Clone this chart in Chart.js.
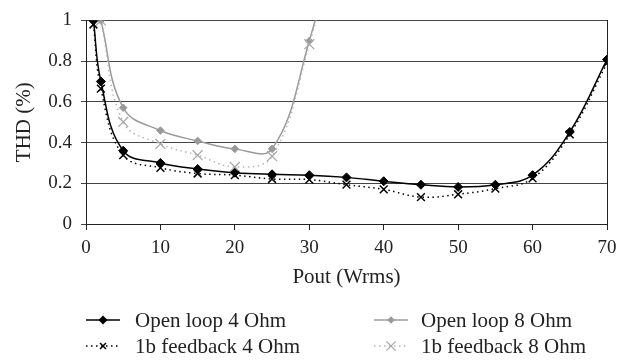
<!DOCTYPE html>
<html>
<head>
<meta charset="utf-8">
<script src="https://cdn.jsdelivr.net/npm/chart.js@4.4.1/dist/chart.umd.min.js"></script>
<style>
  html, body { margin: 0; padding: 0; background: #fff; }
  #wrap { position: relative; width: 627px; height: 360px; }
  #c { position: absolute; left: 0; top: 0; }
  .lg { position: absolute; font-family: "Liberation Serif", serif; font-size: 21px; color: #222; white-space: nowrap; line-height: 24px; height: 24px; }
  .lg svg { position: absolute; top: 4px; }
  .lg span { position: absolute; top: 0; }
</style>
</head>
<body>
<div id="wrap">
  <canvas id="c" width="627" height="360"></canvas>
</div>
<script>
// ---- data ----
const xOpen4 = [1, 2, 5, 10, 15, 20, 25, 30, 35, 40, 45, 50, 55, 60, 65, 70];
const yOpen4 = [1.0, 0.70, 0.36, 0.30, 0.27, 0.252, 0.244, 0.24, 0.229, 0.21, 0.193, 0.182, 0.193, 0.24, 0.452, 0.808];
const xFb4 = [1, 2, 5, 10, 15, 20, 25, 30, 35, 40, 45, 50, 55, 60, 65, 70];
const yFb4 = [0.98, 0.665, 0.338, 0.276, 0.248, 0.24, 0.221, 0.218, 0.193, 0.17, 0.132, 0.146, 0.174, 0.224, 0.44, 0.79];
const xOpen8 = [2, 5, 10, 15, 20, 25, 30, 35];
const yOpen8 = [1.0, 0.571, 0.459, 0.408, 0.369, 0.369, 0.899, 1.6];
const xFb8 = [2, 5, 10, 15, 20, 25, 30, 35];
const yFb8 = [1.0, 0.501, 0.393, 0.338, 0.28, 0.333, 0.883, 1.58];
const seriesNames = ["Open loop 4 Ohm", "Open loop 8 Ohm", "1b feedback 4 Ohm", "1b feedback 8 Ohm"];
const xTitle = "Pout (Wrms)";
const yTitle = "THD (%)";

function pts(xs, ys) { return xs.map((x, i) => ({ x: x, y: ys[i] })); }

const TICKFONT = { family: "'Liberation Serif', serif", size: 19 };
const TITLEFONT = { family: "'Liberation Serif', serif", size: 21 };
const TXT = '#222';

const styles = [
  { color: '#000', dash: [], point: 'rectRot', r: 4.5, pcolor: '#000', pw: 1, lr: 4.5 },
  { color: '#9a9a9a', dash: [], point: 'rectRot', r: 3.8, pcolor: '#9a9a9a', pw: 1, lr: 3.8 },
  { color: '#000', dash: [1.5, 3.5], point: 'crossRot', r: 5.5, pcolor: '#000', pw: 1.5, lr: 4.2 },
  { color: '#b4b4b4', dash: [1.5, 3.5], point: 'crossRot', r: 7, pcolor: '#a6a6a6', pw: 1.2, lr: 6.5 }
];

const datasets = [
  { label: seriesNames[2], data: pts(xFb4, yFb4), st: styles[2] },
  { label: seriesNames[3], data: pts(xFb8, yFb8), st: styles[3] },
  { label: seriesNames[1], data: pts(xOpen8, yOpen8), st: styles[1] },
  { label: seriesNames[0], data: pts(xOpen4, yOpen4), st: styles[0] }
].map(d => ({
  label: d.label,
  data: d.data,
  borderColor: d.st.color,
  borderWidth: 1.5,
  borderDash: d.st.dash,
  tension: 0.4,
  pointStyle: d.st.point,
  pointRadius: d.st.r,
  pointBorderColor: d.st.pcolor,
  pointBackgroundColor: d.st.pcolor,
  pointBorderWidth: d.st.pw,
  fill: false
}));

new Chart(document.getElementById('c'), {
  type: 'line',
  data: { datasets: datasets },
  options: {
    responsive: false,
    animation: false,
    events: [],
    layout: { padding: { left: 0, right: 20, top: 10, bottom: 70 } },
    plugins: { legend: { display: false }, tooltip: { enabled: false } },
    scales: {
      x: {
        type: 'linear', min: 0, max: 70,
        afterFit: s => { s.height = 66; },
        ticks: { stepSize: 10, color: TXT, font: TICKFONT, padding: 7, maxRotation: 0 },
        grid: { display: true, drawOnChartArea: false, drawTicks: true, tickLength: 6, color: '#222', lineWidth: 1 },
        border: { display: true, color: '#222', width: 1 },
        title: { display: true, text: xTitle, color: TXT, font: TITLEFONT, padding: { top: 0, bottom: 0 } }
      },
      y: {
        type: 'linear', min: 0, max: 1,
        afterFit: s => { s.width = 86; },
        ticks: { stepSize: 0.2, color: TXT, font: TICKFONT, padding: 9,
                 callback: v => String(Math.round(v * 10) / 10) },
        grid: { display: true, drawOnChartArea: true, drawTicks: true, tickLength: 5, color: '#444', lineWidth: 1 },
        border: { display: true, color: '#222', width: 1 },
        title: { display: true, text: yTitle, color: TXT, font: TITLEFONT, padding: { top: 12, bottom: 0 } }
      },
      y2: {
        type: 'linear', position: 'right', min: 0, max: 1,
        afterFit: s => { s.width = 0; },
        ticks: { display: false },
        grid: { display: false, drawTicks: false },
        border: { display: true, color: '#222', width: 1 }
      }
    }
  }
});

// ---- HTML legend ----
const legendItems = [
  { name: seriesNames[0], st: styles[0], left: 86, text: 135, top: 308 },
  { name: seriesNames[1], st: styles[1], left: 374, text: 421, top: 308 },
  { name: seriesNames[2], st: styles[2], left: 86, text: 135, top: 334 },
  { name: seriesNames[3], st: styles[3], left: 374, text: 421, top: 334 }
];
const wrap = document.getElementById('wrap');
legendItems.forEach(it => {
  const d = document.createElement('div');
  d.className = 'lg';
  d.style.left = '0px';
  d.style.top = it.top + 'px';
  const dash = it.st.dash.length ? 'stroke-dasharray="1.5 3.5"' : '';
  const W = 34, cx = 17, cy = 8;
  let marker;
  if (it.st.point === 'rectRot') {
    const r = it.st.lr;
    marker = `<polygon points="${cx},${cy - r} ${cx + r},${cy} ${cx},${cy + r} ${cx - r},${cy}" fill="${it.st.pcolor}"/>`;
  } else {
    const r = it.st.lr * 0.707;
    marker = `<path d="M${cx - r},${cy - r} L${cx + r},${cy + r} M${cx - r},${cy + r} L${cx + r},${cy - r}" stroke="${it.st.pcolor}" stroke-width="${it.st.pw}"/>`;
  }
  d.innerHTML = `<svg style="left:${it.left}px" width="${W}" height="16"><line x1="0" y1="${cy}" x2="${W}" y2="${cy}" stroke="${it.st.color}" stroke-width="1.5" ${dash}/>${marker}</svg><span style="left:${it.text}px">${it.name}</span>`;
  wrap.appendChild(d);
});
</script>
</body>
</html>
